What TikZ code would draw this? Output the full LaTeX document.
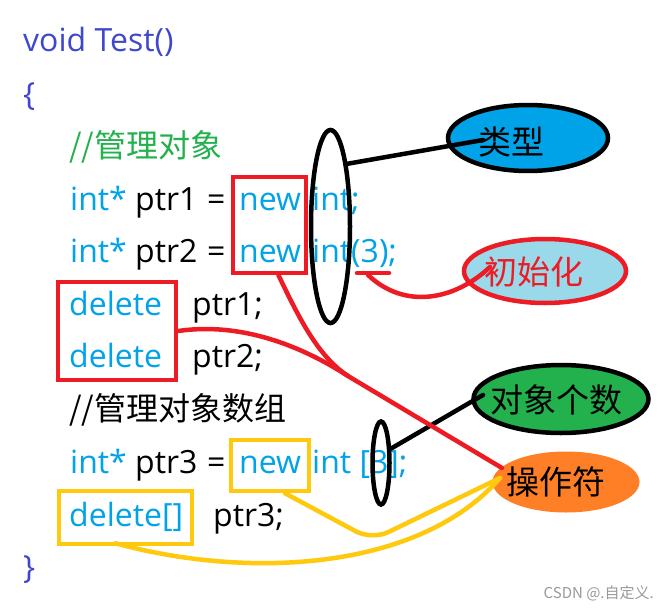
\documentclass[tikz,border=0pt]{standalone}
\usepackage{fontspec}
\setmainfont{Open Sans}
\newfontfamily\cjk{Noto Sans CJK SC}
\usetikzlibrary{shapes.geometric}
\definecolor{cpurple}{HTML}{3F48CC}
\definecolor{cblue}{HTML}{00A2E8}
\definecolor{cgreen}{HTML}{22B14C}
\definecolor{cred}{HTML}{ED1C24}
\definecolor{cyellow}{HTML}{FFC90E}
\definecolor{corange}{HTML}{FF7F27}
\definecolor{clight}{HTML}{99D9EA}
\begin{document}
\begin{tikzpicture}[x=1pt,y=-1pt,
  code/.style={anchor=base west, inner sep=0pt, font=\fontsize{32}{38}\selectfont},
  kw/.style={code, text=cblue},
  pl/.style={code, text=black},
  pu/.style={code, text=cpurple},
  cmt/.style={anchor=base west, inner sep=0pt, font=\cjk\fontsize{32}{38}\selectfont},
  frame/.style={draw=#1, line width=4.5pt, inner sep=0pt, fill=none},
  oval/.style={ellipse, inner sep=0pt, line width=4.5pt},
  lbl/.style={inner sep=0pt, font=\cjk\fontsize{33}{38}\selectfont},
  conn/.style={line width=4.5pt, line cap=round, line join=round}]
\useasboundingbox (0,0) rectangle (669,610);
\fill[white] (0,0) rectangle (669,610);

% code text
\node[pu] (l0) at (23,52) {void Test()};
\node[pu] (l1) at (23,105) {\{};
\node[cmt, text=cgreen] (l2) at (69,157) {//管理对象};
\node[kw] (l3a) at (70,210) {int*};
\node[pl] (l3b) at (135,210) {ptr1};
\node[pl] (l3c) at (207,210) {=};
\node[kw] (l3d) at (239,210) {new};
\node[kw] (l3e) at (312,210) {int;};
\node[kw] (l4a) at (70,262) {int*};
\node[pl] (l4b) at (135,262) {ptr2};
\node[pl] (l4c) at (207,262) {=};
\node[kw] (l4d) at (239,262) {new};
\node[kw] (l4e) at (312,262) {int(3);};
\node[kw] (l5a) at (69,315) {delete};
\node[pl] (l5b) at (192,315) {ptr1;};
\node[kw] (l6a) at (69,367) {delete};
\node[pl] (l6b) at (192,367) {ptr2;};
\node[cmt, text=black] (l7) at (69,420) {//管理对象数组};
\node[kw] (l8a) at (70,473) {int*};
\node[pl] (l8b) at (135,473) {ptr3};
\node[pl] (l8c) at (207,473) {=};
\node[kw] (l8d) at (239,473) {new};
\node[kw] (l8e) at (312,473) {int [3];};
\node[kw] (l9a) at (69,526) {delete[]};
\node[pl] (l9b) at (213,526) {ptr3;};
\node[pu] (l10) at (23,578) {\}};

% frames
\node[frame=cred, minimum width=73pt, minimum height=96pt] (rnew) at (269.5,225) {};
\node[frame=cred, minimum width=118pt, minimum height=98pt] (rdel) at (117,331) {};
\node[frame=cyellow, minimum width=78pt, minimum height=51pt] (ynew) at (270,465.5) {};
\node[frame=cyellow, minimum width=133pt, minimum height=53pt] (ydel) at (125.5,517.5) {};

% black ovals around code
\node[oval, draw=black, minimum width=39pt, minimum height=193pt] (e1) at (330.5,226.5) {};
\node[oval, draw=black, minimum width=17pt, minimum height=83pt] (e2) at (381,463) {};

% callout ellipses
\node[oval, draw=black, fill=cblue, minimum width=160pt, minimum height=66pt] (typ) at (528,138) {};
\node[oval, draw=cred, fill=clight, minimum width=162pt, minimum height=64pt] (ini) at (545,271) {};
\node[oval, draw=black, fill=cgreen, minimum width=175pt, minimum height=68pt] (cnt) at (561,399) {};
\node[oval, draw=none, fill=corange, minimum width=147pt, minimum height=61pt] (opr) at (566,482) {};

% connector endpoints
\coordinate (typtip) at (483,140);
\coordinate (initip) at (490,267);
\coordinate (init3) at (368,275);
\coordinate (ul1) at (357,273);
\coordinate (ul2) at (389,273);
\coordinate (cnttip) at (483,395);
\coordinate (redm) at (348,376);
\coordinate (optip) at (502,468);
\coordinate (yeltip) at (500,478);
\coordinate (ybend) at (372,540);

% connectors
\draw[conn] (e1.75) -- (typtip);
\draw[conn] (e2.55) -- (cnttip);
\draw[conn, cred] (initip) .. controls (455,300) and (405,310) .. (init3);
\draw[conn, cred] (ul1) -- (ul2);
\draw[conn, cred] (rdel.east) .. controls (240,322) and (300,345) .. (redm);
\draw[conn, cred] ([xshift=9pt]rnew.south) .. controls (300,320) and (318,356) .. (redm);
\draw[conn, cred] (redm) -- (optip);
\draw[conn, cyellow, rounded corners=18pt] ([xshift=15pt]ynew.south) -- (ybend) -- (yeltip);
\draw[conn, cyellow] ([xshift=-10pt,yshift=3pt]ydel.south) .. controls (250,580) and (420,570) .. (yeltip);

% callout labels
\node[lbl, text=black] (typt) at (511,142) {类型};
\node[lbl, text=cred] (init) at (534,272) {初始化};
\node[lbl, text=black] (cntt) at (556,400) {对象个数};
\node[lbl, text=black] (oprt) at (556,482) {操作符};

% watermark
\node[anchor=base east, inner sep=0pt, text=black!40, font=\cjk\fontsize{15}{18}\selectfont] (wm) at (654,598) {CSDN @.自定义.};
\end{tikzpicture}
\end{document}
